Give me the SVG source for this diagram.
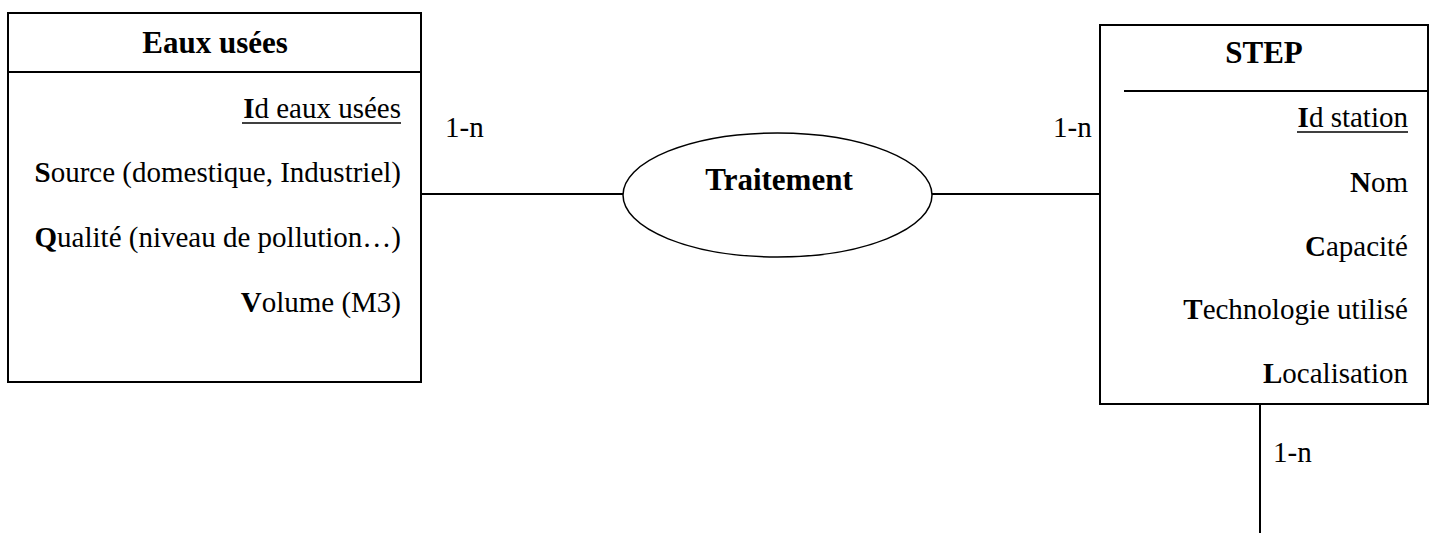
<svg xmlns="http://www.w3.org/2000/svg" width="1435" height="533" viewBox="0 0 1435 533">
<style>
.box{fill:#fff;stroke:#000;stroke-width:2}
.ln{stroke:#000;stroke-width:2;fill:none}
.t{font-family:"Liberation Serif","Times New Roman",serif;fill:#000}
.ttl{font-size:31px;font-weight:bold;text-anchor:middle}
.att{font-size:29px;text-anchor:end}
.card{font-size:29px}
.b{font-weight:bold}
</style>
<rect width="1435" height="533" fill="#fff"/>
<g id="connectors">
<line class="ln" x1="421" y1="194" x2="623" y2="194"/>
<line class="ln" x1="932" y1="194" x2="1100" y2="194"/>
<line class="ln" x1="1260" y1="404" x2="1260" y2="533"/>
<text class="t card" x="445" y="137">1-n</text>
<text class="t card" x="1053" y="137">1-n</text>
<text class="t card" x="1273" y="462">1-n</text>
</g>
<g id="eaux-usees">
<rect class="box" x="8" y="13" width="413" height="369"/>
<line class="ln" x1="8" y1="72" x2="421" y2="72"/>
<text class="t ttl" x="215" y="53">Eaux usées</text>
<text class="t att" x="401" y="118"><tspan class="b">I</tspan>d eaux usées</text>
<line x1="242" y1="123" x2="401" y2="123" stroke="#000" stroke-width="1.5"/>
<text class="t att" x="401" y="182"><tspan class="b">S</tspan>ource (domestique, Industriel)</text>
<text class="t att" x="401" y="247"><tspan class="b">Q</tspan>ualité (niveau de pollution…)</text>
<text class="t att" x="401" y="312"><tspan class="b">V</tspan>olume (M3)</text>
</g>
<g id="traitement">
<ellipse cx="777.5" cy="195" rx="154.5" ry="62" fill="#fff" stroke="#000" stroke-width="1.5"/>
<text class="t ttl" x="779" y="190">Traitement</text>
</g>
<g id="step">
<rect class="box" x="1100" y="25" width="328" height="379"/>
<line class="ln" x1="1124" y1="91" x2="1428" y2="91"/>
<text class="t ttl" x="1264" y="63">STEP</text>
<text class="t att" x="1408" y="127"><tspan class="b">I</tspan>d station</text>
<line x1="1297" y1="132" x2="1408" y2="132" stroke="#000" stroke-width="1.5"/>
<text class="t att" x="1408" y="192"><tspan class="b">N</tspan>om</text>
<text class="t att" x="1408" y="256"><tspan class="b">C</tspan>apacité</text>
<text class="t att" x="1408" y="319"><tspan class="b">T</tspan>echnologie utilisé</text>
<text class="t att" x="1408" y="383"><tspan class="b">L</tspan>ocalisation</text>
</g>
</svg>
